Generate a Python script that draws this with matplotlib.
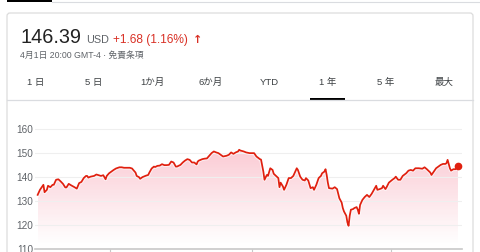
import numpy as np
import matplotlib
matplotlib.use("Agg")
import matplotlib.pyplot as plt
from matplotlib.patches import FancyBboxPatch, Rectangle
import matplotlib.patheffects as pe

plt.rcParams['font.family'] = ['Liberation Sans', 'Noto Sans CJK JP', 'DejaVu Sans']

# one year of closing prices, day offset from the first point
days = [0, 2, 5, 6, 8, 9, 11, 13, 14, 16, 18, 20, 22, 24, 25, 27, 29, 31, 32, 34,
        36, 38, 40, 42, 43, 44, 46, 49, 51, 53, 55, 57, 59, 60, 62, 64, 66, 68, 71, 73,
        75, 78, 80, 82, 83, 85, 86, 88, 89, 91, 93, 94, 96, 97, 99, 101, 102, 104, 106, 108,
        110, 112, 114, 116, 118, 120, 121, 124, 126, 128, 130, 132, 134, 136, 138, 139, 140, 143, 145, 147,
        149, 151, 153, 155, 157, 159, 161, 164, 166, 168, 170, 172, 174, 175, 176, 179, 181, 184, 188, 190,
        193, 194, 196, 197, 199, 200, 202, 204, 205, 207, 209, 210, 211, 213, 214, 216, 218, 220, 222, 225,
        226, 228, 230, 232, 233, 235, 237, 239, 240, 242, 244, 246, 247, 249, 250, 251, 252, 253, 256, 258,
        260, 262, 264, 265, 266, 268, 269, 270, 271, 272, 274, 275, 277, 278, 279, 280, 282, 284, 286, 288,
        290, 292, 294, 295, 297, 299, 300, 302, 303, 305, 308, 310, 311, 313, 315, 317, 320, 322, 324, 326,
        328, 331, 334, 336, 338, 341, 342, 344, 346, 348, 350, 352, 354, 355, 356, 358, 359, 361, 363, 365]
prices = [132.7, 134.8, 136.9, 133.8, 134.8, 136.5, 135.9, 136.9, 136.9, 139.0, 139.2, 138.3, 137.3, 135.8, 135.8, 137.3, 136.7, 136.2, 135.9, 135.3,
          137.6, 138.1, 139.7, 140.6, 140.6, 139.9, 140.3, 140.6, 141.2, 140.9, 140.6, 140.9, 139.2, 140.6, 141.7, 142.4, 143.1, 143.7, 144.2, 144.2,
          144.0, 144.0, 144.0, 143.7, 143.1, 142.0, 140.6, 140.1, 139.4, 140.1, 140.5, 140.7, 141.0, 142.0, 143.7, 144.5, 144.3, 144.8, 144.9, 145.5,
          145.1, 145.1, 145.2, 146.6, 146.2, 144.5, 144.5, 145.2, 146.2, 147.0, 147.6, 147.3, 146.2, 146.2, 145.4, 146.6, 147.0, 147.6, 147.8, 147.9,
          149.0, 150.1, 150.8, 150.4, 150.1, 149.4, 148.7, 149.0, 149.4, 150.4, 149.8, 150.4, 150.8, 151.5, 151.2, 150.8, 150.4, 150.1, 150.1, 148.7,
          147.6, 147.4, 142.4, 139.0, 141.0, 140.6, 143.8, 143.1, 141.5, 140.6, 139.7, 135.9, 137.8, 136.2, 134.8, 136.9, 139.7, 139.7, 140.6, 143.8,
          143.1, 140.3, 139.0, 138.7, 139.7, 138.7, 135.5, 135.9, 134.8, 136.9, 139.7, 140.6, 141.7, 142.4, 143.4, 141.0, 137.8, 135.5, 135.3, 135.9,
          135.1, 131.3, 129.5, 127.2, 125.8, 124.0, 121.2, 119.8, 124.0, 126.5, 126.8, 127.2, 127.6, 126.5, 124.8, 128.5, 130.6, 131.8, 132.7, 131.8,
          133.1, 134.8, 136.5, 134.8, 135.1, 135.5, 136.5, 135.1, 135.9, 137.8, 139.0, 139.7, 140.3, 139.0, 139.0, 140.6, 141.7, 142.8, 143.1, 142.8,
          143.8, 143.8, 143.6, 144.2, 143.4, 142.0, 141.0, 142.4, 143.8, 144.5, 145.2, 145.6, 145.6, 145.9, 147.3, 143.8, 142.8, 143.4, 143.4, 144.9]

y_ticks = [110, 120, 130, 140, 150, 160]
tabs = ['1 日', '5 日', '1か月', '6か月', 'YTD', '1 年', '5 年', '最大']
tab_x = [36, 93.5, 152, 211, 269, 327.5, 386, 444.5]

red = '#d93025'
line_red = '#e0200f'

fig = plt.figure(figsize=(4.8, 2.52), dpi=100)

# background layer in pixel coordinates
bg = fig.add_axes([0, 0, 1, 1])
bg.set_xlim(0, 480)
bg.set_ylim(252, 0)
bg.axis('off')

bg.add_patch(Rectangle((7, 0), 45, 1.5, color='black', lw=0))
bg.plot([52, 480], [1.5, 1.5], color='#dadce0', lw=0.8)
bg.add_patch(FancyBboxPatch((7, 13), 466, 260, boxstyle='round,pad=0,rounding_size=3',
                            fc='white', ec='#dcdcdc', lw=0.9))

bg.text(20, 43, '146.39', fontsize=14.3, color='#222222', va='baseline')
bg.text(86, 43, 'USD', fontsize=7.8, color='#5f6368', va='baseline')
bg.text(113, 43, '+1.68 (1.16%)', fontsize=8.6, color=red, va='baseline')
bg.text(193, 43, '↑', fontsize=8, color=red, va='baseline', fontweight='bold',
        family=['DejaVu Sans'])
bg.text(20, 58, '4月1日 20:00 GMT-4 · 免責条項', fontsize=6.3, color='#5f6368', va='baseline')

for label, x in zip(tabs, tab_x):
    bg.text(x, 82.5, label, fontsize=6.8, color='#3c4043', ha='center', va='center')
bg.plot([7, 473], [100, 100], color='#dadce0', lw=0.9)
bg.add_patch(Rectangle((310, 97.5), 35, 2.2, color='black', lw=0))

# chart
ax = fig.add_axes([35 / 480, (252 - 249.3) / 252, 427 / 480, (249.3 - 115) / 252])
ax.patch.set_alpha(0)
ax.set_xlim(-2.3, 368.5)
ax.set_ylim(110, 166)

x = np.array(days)
y = np.array(prices)

top = 152
grad = np.linspace(0.24, 0.0, 256).reshape(-1, 1)
rgba = np.zeros((256, 1, 4))
rgba[..., 0] = 0.93
rgba[..., 1] = 0.15
rgba[..., 2] = 0.3
rgba[..., 3] = grad
img = ax.imshow(rgba, extent=[x.min(), x.max(), 112, top], aspect='auto',
                origin='upper', zorder=1)
poly = ax.fill_between(x, y, 110, color='none', lw=0)
img.set_clip_path(poly.get_paths()[0], transform=ax.transData)

ax.plot(x, y, color=line_red, lw=1.25, zorder=3,
        path_effects=[pe.Stroke(linewidth=2.8, foreground='white', alpha=0.6), pe.Normal()])
ax.plot(x[-1], y[-1], 'o', color=line_red, ms=4.5, zorder=4)

ax.set_yticks(y_ticks)
ax.set_yticklabels([str(v) for v in y_ticks])
ax.set_xticks([63, 186, 307])
ax.set_xticklabels(['', '', ''])
ax.grid(axis='y', color='#efefef', lw=0.8, zorder=0)
ax.tick_params(axis='y', length=0, pad=1.5, labelsize=7.2, labelcolor='#5f6368')
ax.tick_params(axis='x', length=3, color='#c8c8c8', width=0.8)
for s in ['top', 'right', 'left']:
    ax.spines[s].set_visible(False)
ax.spines['bottom'].set_color('#c8c8c8')
ax.spines['bottom'].set_linewidth(1.2)

fig.savefig('out.png', dpi=100)
